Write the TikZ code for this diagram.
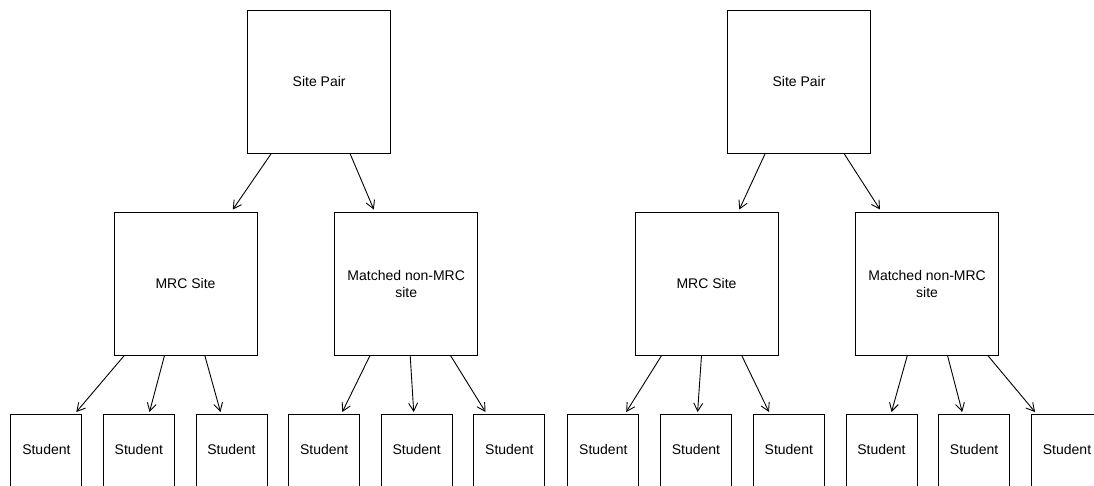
\documentclass[tikz,border=0pt]{standalone}
\usepackage{fontspec}
\setmainfont{Liberation Sans}
\usetikzlibrary{arrows.meta}
\begin{document}
\begin{tikzpicture}[x=1pt,y=-1pt,
  bigbox/.style={draw, line width=1pt, minimum width=143pt, minimum height=143pt,
    inner sep=0pt, align=center, font=\fontsize{14}{17}\selectfont},
  studbox/.style={draw, line width=1pt, minimum width=71pt, inner sep=0pt,
    text height=40pt, text depth=50pt, anchor=north, font=\fontsize{14}{17}\selectfont},
  arr/.style={line width=0.9pt, -{Straight Barb[length=8pt,width=9pt]}}]
\useasboundingbox (0,0) rectangle (1094,485);
\clip (0,0) rectangle (1094,485);

% left tree
\node[bigbox] (sp1) at (319.2,81.5) {Site Pair};
\node[bigbox] (mrc1) at (185.5,283.5) {MRC Site};
\node[bigbox] (mat1) at (406.2,283.5) {Matched non-MRC\\site};
% right tree
\node[bigbox] (sp2) at (799,81.5) {Site Pair};
\node[bigbox] (mrc2) at (706.5,283.5) {MRC Site};
\node[bigbox] (mat2) at (927.1,283.5) {Matched non-MRC\\site};

% students
\node[studbox] (s1) at (46.4,414) {Student};
\node[studbox] (s2) at (138.8,414) {Student};
\node[studbox] (s3) at (231.5,414) {Student};
\node[studbox] (s4) at (324.2,414) {Student};
\node[studbox] (s5) at (416.7,414) {Student};
\node[studbox] (s6) at (509.3,414) {Student};
\node[studbox] (s7) at (603.3,414) {Student};
\node[studbox] (s8) at (696,414) {Student};
\node[studbox] (s9) at (788.8,414) {Student};
\node[studbox] (s10) at (881.5,414) {Student};
\node[studbox] (s11) at (974.1,414) {Student};
\node[studbox] (s12) at (1067,414) {Student};

% arrows top level
\draw[arr] ([xshift=-47.9pt]sp1.south) -- ([xshift=47.3pt,yshift=2pt]mrc1.north);
\draw[arr] ([xshift=30.8pt]sp1.south) -- ([xshift=-32.4pt,yshift=2pt]mat1.north);
\draw[arr] ([xshift=-33.8pt]sp2.south) -- ([xshift=32.8pt,yshift=2pt]mrc2.north);
\draw[arr] ([xshift=45pt]sp2.south) -- ([xshift=-47.1pt,yshift=2pt]mat2.north);

% arrows to students
\draw[arr] ([xshift=-61.2pt]mrc1.south) -- ([xshift=29.9pt,yshift=2pt]s1.north);
\draw[arr] ([xshift=-21pt]mrc1.south) -- ([xshift=10.7pt,yshift=2pt]s2.north);
\draw[arr] ([xshift=19.3pt]mrc1.south) -- ([xshift=-11pt,yshift=2pt]s3.north);
\draw[arr] ([xshift=-36.2pt]mat1.south) -- ([xshift=18.1pt,yshift=2pt]s4.north);
\draw[arr] ([xshift=4pt]mat1.south) -- ([xshift=-3pt,yshift=2pt]s5.north);
\draw[arr] ([xshift=44.3pt]mat1.south) -- ([xshift=-23.8pt,yshift=2pt]s6.north);
\draw[arr] ([xshift=-44.9pt]mrc2.south) -- ([xshift=22.9pt,yshift=2pt]s7.north);
\draw[arr] ([xshift=-5pt]mrc2.south) -- ([xshift=1.6pt,yshift=2pt]s8.north);
\draw[arr] ([xshift=35.2pt]mrc2.south) -- ([xshift=-19.8pt,yshift=2pt]s9.north);
\draw[arr] ([xshift=-19.8pt]mat2.south) -- ([xshift=10pt,yshift=2pt]s10.north);
\draw[arr] ([xshift=20.4pt]mat2.south) -- ([xshift=-11.9pt,yshift=2pt]s11.north);
\draw[arr] ([xshift=60.7pt]mat2.south) -- ([xshift=-32pt,yshift=2pt]s12.north);
\end{tikzpicture}
\end{document}
